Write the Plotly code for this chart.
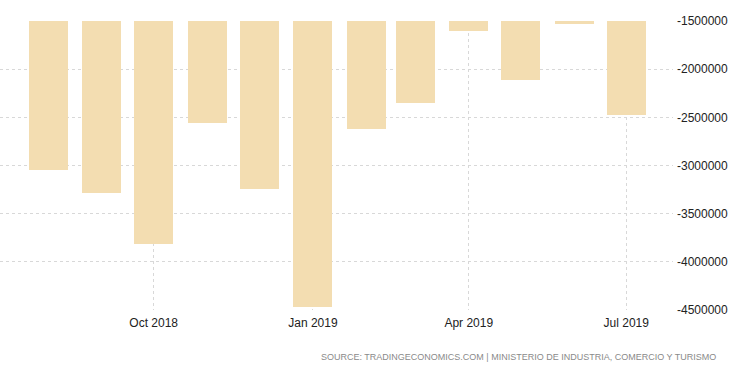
import plotly.graph_objects as go

months = ["2018-08-01", "2018-09-01", "2018-10-01", "2018-11-01", "2018-12-01",
          "2019-01-01", "2019-02-01", "2019-03-01", "2019-04-01", "2019-05-01",
          "2019-06-01", "2019-07-01"]
values = [-3050000, -3290000, -3820000, -2560000, -3240000, -4470000,
          -2620000, -2350000, -1600000, -2110000, -1530000, -2480000]

xtick_vals = ["2018-10-01", "2019-01-01", "2019-04-01", "2019-07-01"]
xtick_text = ["Oct 2018", "Jan 2019", "Apr 2019", "Jul 2019"]
ytick_vals = [-1500000, -2000000, -2500000, -3000000, -3500000, -4000000, -4500000]
ytick_text = [str(v) for v in ytick_vals]

source_text = "SOURCE: TRADINGECONOMICS.COM | MINISTERIO DE INDUSTRIA, COMERCIO Y TURISMO"

bar_width_ms = 22.5 * 86400000

fig = go.Figure()
fig.add_trace(go.Bar(
    x=months, y=values,
    width=[bar_width_ms] * len(months),
    marker=dict(color="#F3DDB1", line=dict(width=0)),
))

fig.update_layout(
    width=750, height=373,
    margin=dict(l=0, r=77, t=21, b=63),
    paper_bgcolor="white", plot_bgcolor="white",
    showlegend=False,
    font=dict(family="Liberation Sans, Arial, sans-serif", size=12, color="#333333"),
    xaxis=dict(
        type="date",
        range=["2018-07-04 06:00", "2019-07-28"],
        tickvals=xtick_vals, ticktext=xtick_text,
        showgrid=True, gridcolor="#d8d8d8", griddash="dot", gridwidth=1,
        zeroline=False, showline=False, ticks="", automargin=False,
        ticklabelstandoff=4,
        tickfont=dict(size=12, color="#222222"),
    ),
    yaxis=dict(
        side="right",
        range=[-4500000, -1500000],
        tickvals=ytick_vals, ticktext=ytick_text,
        showgrid=True, gridcolor="#d8d8d8", griddash="dot", gridwidth=1,
        zeroline=False, showline=False, ticks="", automargin=False,
        ticklabelstandoff=3,
        tickfont=dict(size=12, color="#222222"),
    ),
    bargap=0,
)

fig.add_annotation(
    text=source_text, xref="paper", yref="paper",
    x=1.0669, y=-0.1626, xanchor="right", yanchor="middle",
    showarrow=False,
    font=dict(family="Liberation Sans, Arial, sans-serif", size=9, color="#8a8a8a"),
)

fig.write_html("out.html", config={"displayModeBar": False},
               post_script="document.body.style.margin='0';document.body.style.padding='0';")
